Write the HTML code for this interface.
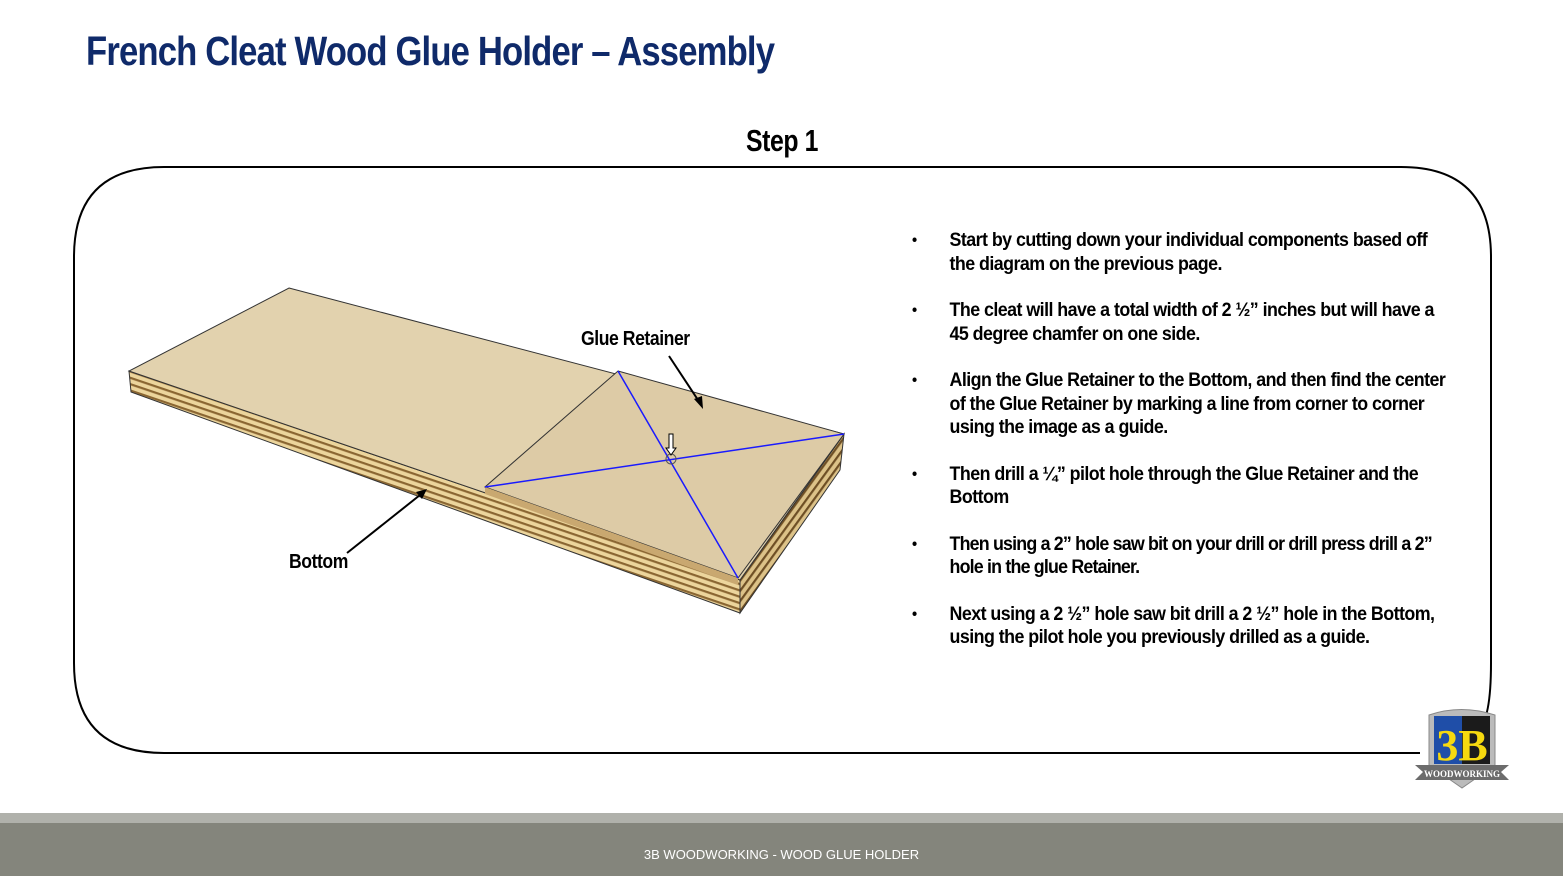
<!DOCTYPE html>
<html><head><meta charset="utf-8"><style>
body{margin:0;width:1563px;height:876px;position:relative;background:#fff;overflow:hidden;font-family:"Liberation Sans Narrow","Liberation Sans",sans-serif}
.t{position:absolute;font-weight:bold;color:#000;letter-spacing:-0.5px;transform-origin:left top;white-space:nowrap}
ul{position:absolute;left:912px;top:229px;margin:0;padding:0;list-style:none;width:588px;transform:scaleX(0.915);transform-origin:left top}
li{position:relative;padding-left:41px;font-weight:bold;font-size:19.5px;line-height:23.5px;margin-bottom:23px;letter-spacing:-0.6px}
li:before{content:"•";position:absolute;left:0;font-size:16px}
</style></head><body>
<div class="t" style="left:86px;top:28px;font-size:41px;color:#0f2a6a;letter-spacing:-1px;transform:scaleX(0.845)">French Cleat Wood Glue Holder – Assembly</div>
<div class="t" style="left:746px;top:123px;font-size:31px;transform:scaleX(0.8)">Step 1</div>
<svg width="1563" height="876" style="position:absolute;left:0;top:0">
<defs><pattern id="st" width="6" height="6" patternUnits="userSpaceOnUse" patternTransform="rotate(18.7)"><rect width="6" height="6" fill="#ecd59c"/><rect y="3" width="6" height="2.2" fill="#8a6632"/></pattern>
<pattern id="st2" width="6" height="6" patternUnits="userSpaceOnUse" patternTransform="rotate(-54)"><rect width="6" height="6" fill="#dcc288"/><rect y="3" width="6" height="2.2" fill="#6e4f25"/></pattern></defs>
<path d="M164,167 H1401 Q1491,167 1491,257 V663 Q1491,720 1478,730" fill="none" stroke="#000" stroke-width="2"/>
<path d="M1420,753 H164 Q74,753 74,663 V257 Q74,167 164,167" fill="none" stroke="#000" stroke-width="2"/>
<polygon points="129,371 740,580 740,613 131,392" fill="url(#st)" stroke="#333" stroke-width="1"/>
<polygon points="740,580 844,434 840,470 740,613" fill="url(#st2)" stroke="#333" stroke-width="1"/>
<polygon points="289,288 844,434 740,580 129,371" fill="#e2d2ae" stroke="#333" stroke-width="1"/>
<polygon points="618,371 844,434 738,578 485,487" fill="#ddcba6" stroke="#333" stroke-width="1"/>
<polygon points="485,487 738,578 738,585 485,494" fill="#c9a870"/>
<line x1="618" y1="371" x2="738" y2="578" stroke="#1a1aff" stroke-width="1.5"/>
<line x1="485" y1="487" x2="844" y2="434" stroke="#1a1aff" stroke-width="1.5"/>
<circle cx="671" cy="459" r="5" fill="none" stroke="#555"/>
<path d="M669,434 h4 v14 h3 l-5,7 -5,-7 h3z" fill="#fff" stroke="#000"/>
<line x1="669" y1="356" x2="700" y2="403" stroke="#000" stroke-width="2"/><polygon points="703,409 694,399 702,396" fill="#000"/>
<line x1="347" y1="553" x2="420" y2="495" stroke="#000" stroke-width="2"/><polygon points="427,489 416,492 422,499" fill="#000"/>
<rect x="0" y="813" width="1563" height="11" fill="#b0b1ab"/>
<rect x="0" y="823" width="1563" height="53" fill="#84857c"/>
<path d="M1429,715 Q1461,704 1495,715 V765 L1462,788 1429,765Z" fill="#bbb" stroke="#888"/>
<rect x="1434" y="716" width="28" height="48" fill="#1f4ea8"/><rect x="1462" y="716" width="28" height="48" fill="#1b1b1b"/>
<text x="1462" y="760" font-family="Liberation Serif" font-weight="bold" font-size="44" fill="#f6d90f" text-anchor="middle">3B</text>
<polygon points="1415,765 1509,765 1501,772 1509,780 1415,780 1423,772" fill="#6c6c6c"/>
<text x="1462" y="777" font-family="Liberation Serif" font-weight="bold" font-size="9" fill="#fff" text-anchor="middle">WOODWORKING</text>
</svg>
<div class="t" style="left:581px;top:328px;font-size:20px;transform:scaleX(0.88)">Glue Retainer</div>
<div class="t" style="left:289px;top:551px;font-size:20px;transform:scaleX(0.88)">Bottom</div>
<ul>
<li>Start by cutting down your individual components based off the diagram on the previous page.</li>
<li>The cleat will have a total width of 2 ½” inches but will have a 45 degree chamfer on one side.</li>
<li>Align the Glue Retainer to the Bottom, and then find the center of the Glue Retainer by marking a line from corner to corner using the image as a guide.</li>
<li>Then drill a ¼” pilot hole through the Glue Retainer and the Bottom</li>
<li style="letter-spacing:-0.9px">Then using a 2” hole saw bit on your drill or drill press drill a 2” hole in the glue Retainer.</li>
<li>Next using a 2 ½” hole saw bit drill a 2 ½” hole in the Bottom, using the pilot hole you previously drilled as a guide.</li>
</ul>
<div style="position:absolute;left:0;width:1563px;top:847px;text-align:center;color:#fff;font-family:'Liberation Sans',sans-serif;font-size:13px">3B WOODWORKING - WOOD GLUE HOLDER</div>
</body></html>
